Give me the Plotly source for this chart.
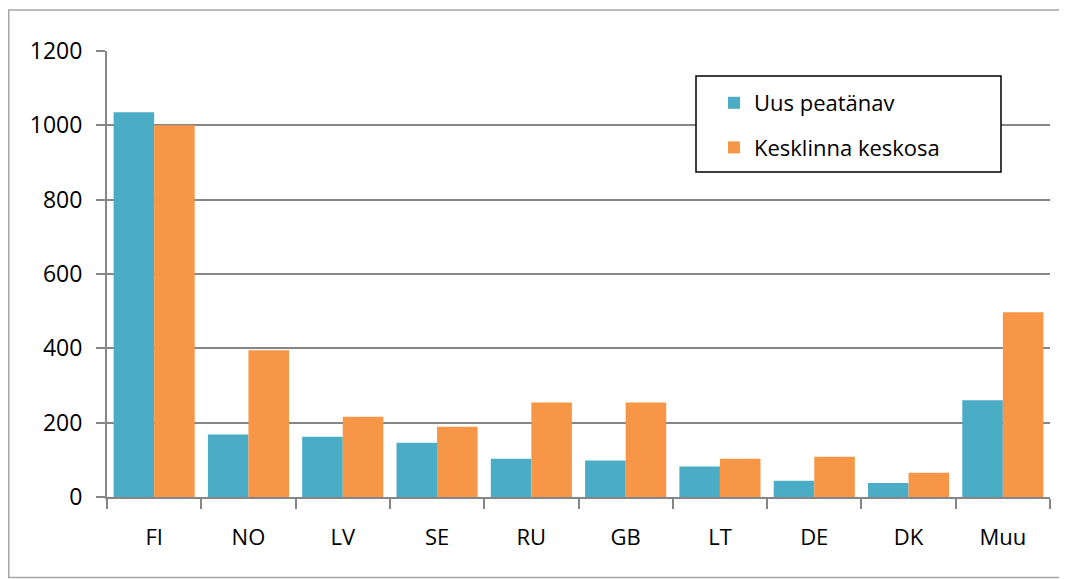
import plotly.graph_objects as go

categories = ["FI", "NO", "LV", "SE", "RU", "GB", "LT", "DE", "DK", "Muu"]
uus_peatanav = [1035, 168, 162, 146, 103, 98, 82, 44, 38, 260]
kesklinna_keskosa = [1000, 395, 216, 189, 254, 254, 103, 108, 65, 497]
series_names = ["Uus peatänav", "Kesklinna keskosa"]
y_ticks = [0, 200, 400, 600, 800, 1000, 1200]

# page has an 8px body margin: work in screen coords and shift by OFF
OFF = 8
W, H = 1067 - OFF, 579 - OFF
L, T = 107 - OFF, 51 - OFF
R = W - (1050 - OFF)
B = H - (497 - OFF)
pw, ph = W - L - R, H - T - B

def px(x):
    return (x - OFF - L) / pw

def py(y):
    return (H - B - (y - OFF)) / ph

FONT = "Open Sans"

fig = go.Figure()
fig.add_trace(go.Bar(x=categories, y=uus_peatanav, name=series_names[0],
                     marker=dict(color="#4BACC6", line=dict(width=0)), legendgroup="a"))
fig.add_trace(go.Bar(x=categories, y=kesklinna_keskosa, name=series_names[1],
                     marker=dict(color="#F79646", line=dict(width=0)), legendgroup="b"))

fig.update_layout(
    width=W, height=H,
    margin=dict(l=L, r=R, t=T, b=B),
    paper_bgcolor="white", plot_bgcolor="white",
    barmode="group", bargap=0.14, bargroupgap=0,
    font=dict(family=FONT, size=22, color="black"),
    legend=dict(x=px(714), y=py(82), xanchor="left", yanchor="top",
                bgcolor="rgba(0,0,0,0)", borderwidth=0,
                font=dict(family=FONT, size=22, color="black"),
                tracegroupgap=13, traceorder="grouped"),
    showlegend=True,
    shapes=[
        dict(type="rect", xref="paper", yref="paper",
             x0=px(8.75), x1=px(1065.5), y0=py(577.5), y1=py(10),
             line=dict(color="#a6a6a6", width=1.5), fillcolor="rgba(0,0,0,0)", layer="below"),
        dict(type="rect", xref="paper", yref="paper",
             x0=px(696), x1=px(1001), y0=py(172), y1=py(76),
             line=dict(color="black", width=1.5), fillcolor="white", layer="above"),
    ],
)

fig.update_xaxes(
    type="category", showgrid=False, showline=True, linecolor="#868686", linewidth=2,
    ticks="outside", tickson="boundaries", ticklen=10, tickwidth=2, tickcolor="#868686",
    ticklabelstandoff=20, tickfont=dict(family=FONT, size=22, color="black"),
)
fig.update_yaxes(
    range=[0, 1200], tickvals=y_ticks, showgrid=True, gridcolor="#868686", gridwidth=2,
    showline=True, linecolor="#868686", linewidth=2,
    ticks="outside", ticklen=9, tickwidth=2, tickcolor="#868686",
    ticklabelstandoff=9, tickfont=dict(family=FONT, size=23, color="black"),
    zeroline=False,
)

fig.write_html("out.html")
